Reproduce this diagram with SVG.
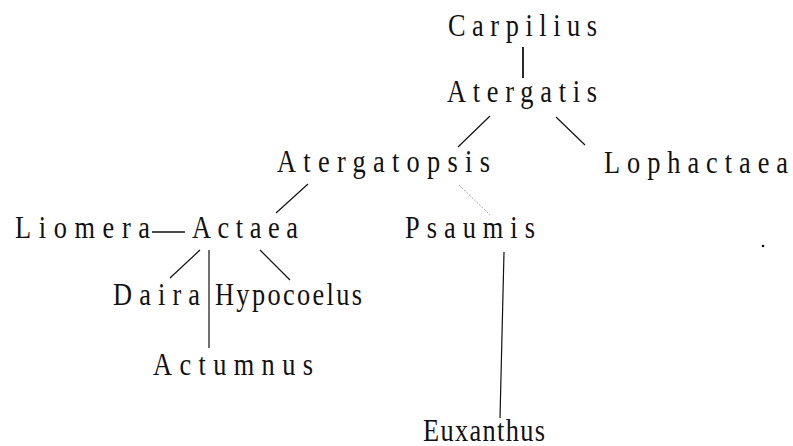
<svg xmlns="http://www.w3.org/2000/svg" width="793" height="446" viewBox="0 0 793 446">
<style>
.t{font-family:"Liberation Serif","DejaVu Serif",serif;font-size:31px;fill:#111;}
.c line{stroke:#111;stroke-width:1.2;fill:none;}
.c line.f{stroke:#888;stroke-width:0.8;stroke-dasharray:2 1.5;}
</style>
<rect width="793" height="446" fill="#fff"/>
<g class="c" id="connectors">
<line x1="523" y1="47" x2="523" y2="78" style="stroke-width:1.8"/>
<line x1="490" y1="116" x2="458" y2="147"/>
<line x1="556" y1="117" x2="585" y2="145"/>
<line x1="308" y1="184" x2="276" y2="213"/>
<line class="f" x1="459" y1="185" x2="490" y2="215"/>
<line x1="152" y1="232" x2="185" y2="232" style="stroke-width:1.5"/>
<line x1="200" y1="250" x2="170" y2="278"/>
<line x1="209" y1="250" x2="209" y2="348"/>
<line x1="260" y1="250" x2="290" y2="280"/>
<line x1="504" y1="252" x2="500" y2="418"/>
</g>
<g id="Carpilius"><text class="t" transform="translate(448,36) scale(0.85,1)" textLength="175.3" lengthAdjust="spacing">Carpilius</text></g>
<g id="Atergatis"><text class="t" transform="translate(447,102) scale(0.85,1)" textLength="176.5" lengthAdjust="spacing">Atergatis</text></g>
<g id="Atergatopsis"><text class="t" transform="translate(277,172) scale(0.85,1)" textLength="250.6" lengthAdjust="spacing">Atergatopsis</text></g>
<g id="Lophactaea"><text class="t" transform="translate(604,173) scale(0.85,1)" textLength="216.5" lengthAdjust="spacing">Lophactaea</text></g>
<g id="Liomera"><text class="t" transform="translate(15,238) scale(0.85,1)" textLength="158.8" lengthAdjust="spacing">Liomera</text></g>
<g id="Actaea"><text class="t" transform="translate(192,238) scale(0.85,1)" textLength="124.7" lengthAdjust="spacing">Actaea</text></g>
<g id="Psaumis"><text class="t" transform="translate(405,238) scale(0.85,1)" textLength="152.9" lengthAdjust="spacing">Psaumis</text></g>
<g id="Daira"><text class="t" transform="translate(113,305) scale(0.85,1)" textLength="102.4" lengthAdjust="spacing">Daira</text></g>
<g id="Hypocoelus"><text class="t" transform="translate(215,305) scale(0.85,1)" textLength="172.9" lengthAdjust="spacing">Hypocoelus</text></g>
<g id="Actumnus"><text class="t" transform="translate(153,375) scale(0.85,1)" textLength="188.2" lengthAdjust="spacing">Actumnus</text></g>
<g id="Euxanthus"><text class="t" transform="translate(423,441) scale(0.85,1)" textLength="143.5" lengthAdjust="spacing">Euxanthus</text></g>
<circle cx="763" cy="246" r="1.3" fill="#111"/>
</svg>
